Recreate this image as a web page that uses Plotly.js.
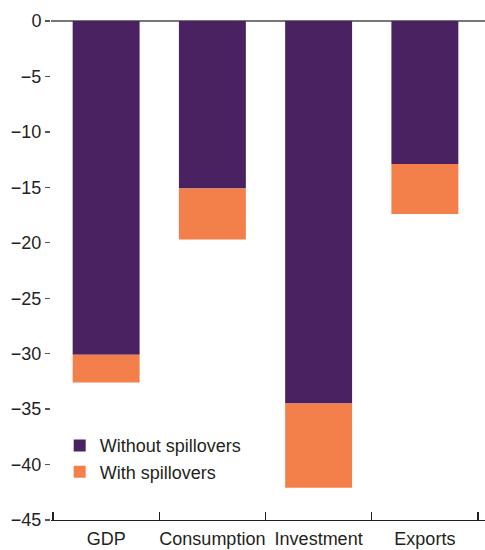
<!DOCTYPE html>
<html>
<head>
<meta charset="utf-8">
<script src="https://cdn.plot.ly/plotly-3.0.1.min.js"></script>
<style>
  html, body { margin: 0; padding: 0; background: #fff; }
  #chart { width: 485px; height: 550px; }
</style>
</head>
<body>
<div id="chart"></div>
<script>
const categories = ["GDP", "Consumption", "Investment", "Exports"];
const withoutSpillovers = [-30.1, -15.1, -34.5, -12.9];
const spilloverAddition = [-2.5, -4.6, -7.6, -4.5];
const seriesNames = ["Without spillovers", "With spillovers"];
const yTickVals = [0, -5, -10, -15, -20, -25, -30, -35, -40, -45];

const FONT = "'Liberation Sans', Arial, sans-serif";

const traces = [
  {
    type: "bar",
    name: seriesNames[0],
    x: categories,
    y: withoutSpillovers,
    marker: { color: "#4A2262", line: { width: 0 } },
    hoverinfo: "skip"
  },
  {
    type: "bar",
    name: seriesNames[1],
    x: categories,
    y: spilloverAddition,
    marker: { color: "#F3804A", line: { width: 0 } },
    hoverinfo: "skip"
  }
];

const layout = {
  width: 485,
  height: 550,
  margin: { l: 51, r: 0, t: 21, b: 30, pad: 0 },
  paper_bgcolor: "#ffffff",
  plot_bgcolor: "#ffffff",
  barmode: "relative",
  bargap: 0.37,
  showlegend: true,
  font: { family: FONT, size: 18, color: "#231f20" },
  legend: {
    x: 0.02, y: 0.186, xanchor: "left", yanchor: "top",
    bgcolor: "rgba(0,0,0,0)",
    font: { family: FONT, size: 18, color: "#231f20" },
    tracegroupgap: 0,
    itemwidth: 30,
    traceorder: "normal"
  },
  xaxis: {
    type: "category",
    range: [-0.519, 3.566],
    showgrid: false,
    zeroline: false,
    showline: true,
    linecolor: "#231f20",
    linewidth: 1.3,
    ticks: "inside",
    tickson: "boundaries",
    ticklen: 8,
    tickwidth: 1.3,
    tickcolor: "#231f20",
    tickangle: 0,
    ticklabelstandoff: 2,
    tickfont: { family: FONT, size: 18, color: "#231f20" },
    fixedrange: true
  },
  yaxis: {
    range: [-45, 0],
    tickvals: yTickVals,
    showgrid: false,
    zeroline: true,
    zerolinecolor: "#777777",
    zerolinewidth: 2,
    showline: false,
    ticks: "outside",
    ticklen: 5,
    tickwidth: 1.3,
    tickcolor: "#555555",
    tickfont: { family: FONT, size: 18, color: "#231f20" },
    fixedrange: true
  }
};

Plotly.newPlot("chart", traces, layout, { displayModeBar: false, staticPlot: true });
</script>
</body>
</html>
